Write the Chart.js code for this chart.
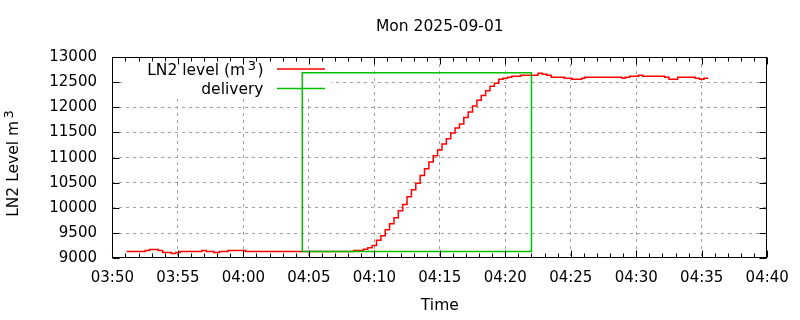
<!DOCTYPE html>
<html><head><meta charset="utf-8">
<script src="https://cdn.jsdelivr.net/npm/chart.js@4.4.1/dist/chart.umd.min.js"></script>
<style>html,body{margin:0;padding:0;background:#fff;}#wrap{width:800px;height:320px;}</style>
</head><body><div id="wrap"><canvas id="c" width="800" height="320"></canvas></div>
<script>
const chartTitle = "Mon 2025-09-01";
const xAxisTitle = "Time";
const yAxisTitleBase = "LN2 Level m";
const yAxisTitleSup = "3";
const levelLabelBase = "LN2 level (m";
const levelLabelSup = "3";
const levelLabelEnd = ")";
const deliveryLabel = "delivery";

const xTickLabels = ["03:50","03:55","04:00","04:05","04:10","04:15","04:20","04:25","04:30","04:35","04:40"];
const yTickValues = [9000,9500,10000,10500,11000,11500,12000,12500,13000];

const levelTimes = ["03:51:05","03:52:30","03:52:50","03:53:30","03:53:50","03:54:30","03:54:50","03:55:10","03:56:50","03:57:10","03:57:45","03:58:10","03:58:50","04:00:10","04:08:25","04:09:10","04:09:30","04:09:50","04:10:10","04:10:30","04:10:50","04:11:10","04:11:30","04:11:50","04:12:10","04:12:30","04:12:50","04:13:10","04:13:30","04:13:50","04:14:10","04:14:30","04:14:50","04:15:10","04:15:30","04:15:50","04:16:10","04:16:30","04:16:50","04:17:10","04:17:30","04:17:50","04:18:10","04:18:30","04:18:50","04:19:10","04:19:30","04:19:50","04:20:10","04:20:30","04:21:10","04:22:30","04:22:50","04:23:10","04:23:30","04:24:30","04:25:05","04:25:50","04:26:05","04:28:55","04:29:10","04:29:30","04:30:10","04:30:30","04:32:10","04:32:30","04:33:10","04:34:30","04:34:50","04:35:10","04:35:30"];
const levelValues = [9133,9153,9173,9153,9113,9093,9113,9133,9153,9133,9113,9133,9153,9133,9153,9178,9212,9252,9357,9450,9569,9687,9806,9945,10070,10222,10361,10491,10644,10777,10915,11040,11153,11271,11376,11489,11588,11667,11798,11905,12024,12143,12234,12327,12420,12479,12558,12578,12598,12618,12638,12677,12657,12638,12598,12578,12558,12578,12598,12578,12598,12618,12638,12618,12598,12558,12598,12578,12558,12578,12578];

const deliveryTimes = ["04:04:30","04:04:30","04:22:00","04:22:00","04:04:30"];
const deliveryValues = [9133,12685,12685,9133,9133];

function toSec(s){const p=s.split(':').map(Number);return p[0]*3600+p[1]*60+(p[2]||0);}
function fmt(v){const h=Math.floor(v/3600),m=Math.floor((v%3600)/60);return String(h).padStart(2,'0')+':'+String(m).padStart(2,'0');}

const FONT = "'DejaVu Sans', sans-serif";
const xMin = toSec(xTickLabels[0]), xMax = toSec(xTickLabels[xTickLabels.length-1]);

const frameTicks = {
  id:'frameTicks',
  afterDatasetsDraw(chart){
    const {ctx, chartArea:a, scales:{x,y}} = chart;
    ctx.save();
    ctx.strokeStyle='#000'; ctx.lineWidth=1; ctx.setLineDash([]);
    const L=Math.round(a.left)+0.5, R=Math.round(a.right)-0.5, T=Math.round(a.top)+0.5, B=Math.round(a.bottom)-0.5;
    ctx.beginPath();
    for(let s=x.min; s<=x.max; s+=60){
      const px=Math.round(x.getPixelForValue(s))+0.5;
      const len=((s-x.min)%300===0)?7:4;
      ctx.moveTo(px,B); ctx.lineTo(px,B-len);
      ctx.moveTo(px,T); ctx.lineTo(px,T+len);
    }
    for(const v of yTickValues){
      const py=Math.round(y.getPixelForValue(v))+0.5;
      ctx.moveTo(L,py); ctx.lineTo(L+7,py);
      ctx.moveTo(R,py); ctx.lineTo(R-7,py);
    }
    ctx.stroke();
    ctx.strokeRect(L,T,R-L,B-T);
    ctx.restore();
  }
};

function supText(ctx, parts){
  let w=0; for(const p of parts){ctx.font=p.size+'px '+FONT; w+=ctx.measureText(p.t).width+(p.gap||0);} return w;
}
function drawParts(ctx, parts, x, y){
  for(const p of parts){ctx.font=p.size+'px '+FONT; ctx.fillText(p.t,x,y-(p.rise||0)); x+=ctx.measureText(p.t).width+(p.gap||0);}
}

const keyPlugin = {
  id:'key',
  beforeDatasetsDraw(chart){
    const {ctx}=chart; ctx.save(); ctx.fillStyle='#fff'; ctx.fillRect(123,58,208,38); ctx.restore();
  },
  afterDatasetsDraw(chart){
    const {ctx}=chart; ctx.save();
    ctx.fillStyle='#000'; ctx.textBaseline='alphabetic'; ctx.textAlign='left';
    const p1=[{t:levelLabelBase,size:15.5,gap:2.5},{t:levelLabelSup,size:13,rise:5,gap:1.5},{t:levelLabelEnd,size:15.5}];
    const w1=supText(ctx,p1);
    drawParts(ctx,p1,263.5-w1,75);
    ctx.font='15.5px '+FONT; const w2=ctx.measureText(deliveryLabel).width;
    ctx.fillText(deliveryLabel,263.5-w2,94);
    ctx.lineWidth=1.5;
    ctx.strokeStyle=chart.data.datasets[1].borderColor; ctx.beginPath(); ctx.moveTo(277,69); ctx.lineTo(325,69); ctx.stroke();
    ctx.strokeStyle=chart.data.datasets[0].borderColor; ctx.beginPath(); ctx.moveTo(277,88.5); ctx.lineTo(325,88.5); ctx.stroke();
    const p3=[{t:yAxisTitleBase,size:15.5,gap:2.5},{t:yAxisTitleSup,size:13,rise:5}];
    const w3=supText(ctx,p3);
    ctx.translate(18,163.5); ctx.rotate(-Math.PI/2);
    drawParts(ctx,p3,-w3/2,0);
    ctx.restore();
  }
};

new Chart(document.getElementById('c'),{
  type:'line',
  data:{datasets:[
    {label:deliveryLabel, data:deliveryTimes.map((t,i)=>({x:toSec(t),y:deliveryValues[i]})), borderColor:'#00c000', borderWidth:1.5, pointRadius:0, tension:0, fill:false, order:0},
    {label:levelLabelBase+levelLabelSup+levelLabelEnd, data:levelTimes.map((t,i)=>({x:toSec(t),y:levelValues[i]})), borderColor:'#ff0000', borderWidth:1.5, pointRadius:0, stepped:'before', fill:false, order:1}
  ]},
  options:{
    responsive:false, animation:false, devicePixelRatio:1,
    layout:{padding:{left:0,right:32.8,top:0,bottom:0}},
    plugins:{
      legend:{display:false}, tooltip:{enabled:false},
      title:{display:true, text:chartTitle, fullSize:false, color:'#000', font:{family:FONT,size:15.5,weight:'normal',lineHeight:1.2}, padding:{top:17.7,bottom:20.7}}
    },
    scales:{
      x:{type:'linear', min:xMin, max:xMax,
        afterBuildTicks(s){s.ticks=xTickLabels.map(l=>({value:toSec(l)}));},
        afterFit(s){s.height=61.7;},
        ticks:{callback:(v)=>fmt(v), color:'#000', font:{family:FONT,size:15}, padding:11, maxRotation:0, autoSkip:false},
        grid:{drawTicks:false, lineWidth:1, color:(c)=>(c.tick&&(c.tick.value===xMin||c.tick.value===xMax))?'rgba(0,0,0,0)':'#a0a0a0'},
        border:{display:false, dash:[3,4]},
        title:{display:true, text:xAxisTitle, color:'#000', font:{family:FONT,size:15.5,lineHeight:1.2}, padding:{top:0,bottom:5}}
      },
      y:{type:'linear', min:yTickValues[0], max:yTickValues[yTickValues.length-1],
        afterBuildTicks(s){s.ticks=yTickValues.map(v=>({value:v}));},
        afterFit(s){s.width=112.4;},
        ticks:{callback:(v)=>String(v), color:'#000', font:{family:FONT,size:15}, padding:15.4},
        grid:{drawTicks:false, lineWidth:1, color:(c)=>(c.tick&&(c.tick.value===yTickValues[0]||c.tick.value===yTickValues[yTickValues.length-1]))?'rgba(0,0,0,0)':'#a0a0a0'},
        border:{display:false, dash:[3,4]},
        title:{display:false}
      }
    }
  },
  plugins:[keyPlugin, frameTicks]
});
</script></body></html>
